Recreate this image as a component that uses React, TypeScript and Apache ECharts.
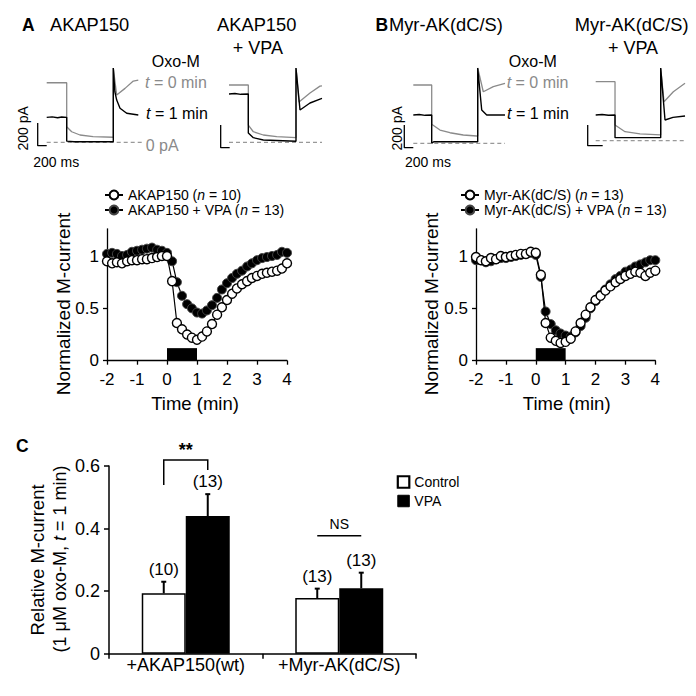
import React, { useEffect, useRef } from 'react';
import * as echarts from 'echarts';

const FONT = "'Liberation Sans', Arial, Helvetica, sans-serif";
const GRAY = '#8a8a8a';

// ---------- Panel A / B current traces (ms, pA) ----------
const traceA_t0 = [[0, 530], [440, 530], [440, 139], [550, 94], [733, 65], [1020, 50], [1465, 45], [1465, 661], [1540, 421], [1723, 480], [1905, 545], [2015, 554]];
const traceA_t1 = [[0, 222], [120, 226], [240, 219], [330, 225], [440, 222], [440, 10], [600, 5], [1465, 5], [1465, 661], [1500, 450], [1540, 376], [1613, 303], [1760, 258], [2015, 243]];
const traceAV_t0 = [[0, 510], [425, 510], [425, 153], [535, 94], [755, 65], [1050, 50], [1474, 41], [1474, 661], [1540, 358], [1782, 439], [2002, 500], [2046, 503]];
const traceAV_t1 = [[0, 430], [130, 434], [260, 427], [425, 430], [425, 83], [535, 41], [755, 20], [1474, 9], [1474, 661], [1562, 287], [1782, 350], [2002, 385], [2046, 391]];
const traceB_t0 = [[0, 519], [405, 519], [405, 170], [587, 118], [807, 94], [1100, 74], [1395, 65], [1417, 65], [1417, 670], [1540, 459], [1760, 504], [2017, 534]];
const traceB_t1 = [[0, 252], [130, 256], [260, 249], [405, 252], [405, 0], [450, 14], [1417, 14], [1417, 670], [1505, 296], [1615, 252], [2017, 252]];
const traceBV_t0 = [[0, 525], [425, 525], [425, 140], [645, 80], [975, 60], [1430, 51], [1430, 647], [1503, 347], [1708, 436], [1965, 511]];
const traceBV_t1 = [[0, 229], [140, 233], [280, 226], [425, 229], [425, 27], [1430, 27], [1430, 647], [1525, 184], [1700, 208], [1965, 220]];
const zeroA = [[0, 0], [2090, 0]];
const zeroAV = [[0, 0], [2046, 0]];
const zeroB = [[0, 0], [2017, 0]];
const zeroBV = [[0, 0], [1965, 0]];
const scaleA = [[-198, 172], [-198, -30], [0, -30]];
const scaleAV = [[-183, 154], [-183, -48], [15, -48]];
const scaleB = [[-198, 163], [-198, -39], [0, -39]];
const scaleBV = [[-176, 140], [-176, -44], [154, -44]];

// ---------- Time courses ----------
const timeMin = [-2, -1.83, -1.67, -1.5, -1.33, -1.17, -1, -0.83, -0.67, -0.5, -0.33, -0.17, 0, 0.17, 0.33, 0.5, 0.67, 0.83, 1, 1.17, 1.33, 1.5, 1.67, 1.83, 2, 2.17, 2.33, 2.5, 2.67, 2.83, 3, 3.17, 3.33, 3.5, 3.67, 3.83, 4];
const akapCtrl = [0.95, 0.93, 0.94, 0.93, 0.95, 0.96, 0.96, 0.97, 0.97, 0.98, 0.99, 1.0, 1.0, 0.76, 0.36, 0.3, 0.25, 0.22, 0.2, 0.23, 0.28, 0.35, 0.44, 0.51, 0.58, 0.64, 0.69, 0.73, 0.76, 0.79, 0.81, 0.83, 0.84, 0.85, 0.86, 0.88, 0.93];
const akapVpa = [1.02, 1.03, 1.02, 1.0, 1.01, 1.04, 1.05, 1.06, 1.07, 1.08, 1.06, 1.05, 1.03, 0.95, 0.75, 0.62, 0.54, 0.5, 0.46, 0.45, 0.48, 0.53, 0.6, 0.68, 0.74, 0.79, 0.83, 0.86, 0.9, 0.93, 0.96, 0.98, 0.99, 1.0, 1.01, 1.04, 1.03];
const myrCtrl = [0.99, 0.96, 0.95, 0.98, 0.97, 1.0, 0.99, 1.0, 1.01, 1.02, 1.02, 1.04, 1.03, 0.82, 0.36, 0.22, 0.19, 0.17, 0.18, 0.21, 0.28, 0.36, 0.44, 0.51, 0.58, 0.62, 0.67, 0.71, 0.75, 0.78, 0.81, 0.83, 0.85, 0.84, 0.81, 0.84, 0.86];
const myrVpa = [0.96, 0.96, 0.94, 0.95, 0.97, 0.98, 0.98, 0.99, 1.0, 1.01, 1.02, 1.03, 1.01, 0.8, 0.47, 0.35, 0.29, 0.26, 0.24, 0.23, 0.27, 0.33, 0.41, 0.5, 0.57, 0.63, 0.68, 0.73, 0.78, 0.81, 0.85, 0.87, 0.9, 0.92, 0.94, 0.96, 0.96];
const timeTicks = [0, 0.5, 1];
const oxoStart = 0;
const oxoEnd = 1;
const oxoBarHeight = 0.12;
const nameA0 = 'AKAP150 (n = 10)';
const nameA1 = 'AKAP150 + VPA (n = 13)';
const nameB0 = 'Myr-AK(dC/S) (n = 13)';
const nameB1 = 'Myr-AK(dC/S) + VPA (n = 13)';

// ---------- Panel C ----------
const groups = ['+AKAP150(wt)', '+Myr-AK(dC/S)'];
const controlVals = [0.193, 0.178];
const controlErr = [0.037, 0.03];
const controlN = ['(10)', '(13)'];
const vpaVals = [0.44, 0.209];
const vpaErr = [0.07, 0.05];
const vpaN = ['(13)', '(13)'];
const sigLabels = ['**', 'NS'];
const sigY = [0.619, 0.377];
const sigLegLeft = [0.539, null];
const sigLegRight = [0.587, null];

const BAR_W = 44;

function buildOption() {
  const MS_PX = 22, PA_PX = 8.9, MS_MIN = -250, MS_MAX = 2100, PA_MIN = -60, PA_MAX = 700;
  const origins = [
    [46.7, 142.3],
    [229, 142.3],
    [413.3, 143.3],
    [595.7, 140.7],
  ];
  const traceSets = [
    { t0: traceA_t0, t1: traceA_t1, zero: zeroA, bar: scaleA },
    { t0: traceAV_t0, t1: traceAV_t1, zero: zeroAV, bar: scaleAV },
    { t0: traceB_t0, t1: traceB_t1, zero: zeroB, bar: scaleB },
    { t0: traceBV_t0, t1: traceBV_t1, zero: zeroBV, bar: scaleBV },
  ];
  const grids: any[] = [];
  const xAxes: any[] = [];
  const yAxes: any[] = [];
  const series: any[] = [];

  origins.forEach(([ox, oy], i) => {
    grids.push({
      left: ox + MS_MIN / MS_PX,
      top: oy - PA_MAX / PA_PX,
      width: (MS_MAX - MS_MIN) / MS_PX,
      height: (PA_MAX - PA_MIN) / PA_PX,
    });
    xAxes.push({ type: 'value', gridIndex: i, min: MS_MIN, max: MS_MAX, show: false });
    yAxes.push({ type: 'value', gridIndex: i, min: PA_MIN, max: PA_MAX, show: false });
    const s = traceSets[i];
    const base = { type: 'line', xAxisIndex: i, yAxisIndex: i, symbol: 'none', silent: true, z: 2 };
    series.push({ ...base, data: s.zero, lineStyle: { color: '#999', width: 1.2, type: [4, 3] } });
    series.push({ ...base, data: s.bar, lineStyle: { color: '#000', width: 1.3 } });
    series.push({ ...base, data: s.t0, lineStyle: { color: GRAY, width: 1.3 } });
    series.push({ ...base, data: s.t1, lineStyle: { color: '#000', width: 1.4 }, z: 3 });
  });

  // Time courses
  const vUnit = 104.7;
  const vMax = 1.26;
  const tcLefts = [[107, 180], [476, 179.3]];
  tcLefts.forEach(([left, width]) => {
    grids.push({ left, width, top: 360.7 - vMax * vUnit, height: vMax * vUnit });
  });
  [4, 5].forEach((gi) => {
    xAxes.push({
      type: 'value', gridIndex: gi, min: -2, max: 4, interval: 1,
      axisLine: { show: true, onZero: false, lineStyle: { color: '#000', width: 1.3 } },
      axisTick: { show: true, length: 4, lineStyle: { color: '#000', width: 1.3 } },
      axisLabel: { fontSize: 17, color: '#000', fontFamily: FONT, margin: 10 },
      splitLine: { show: false },
    });
    yAxes.push({
      type: 'value', gridIndex: gi, min: 0, max: vMax,
      axisLine: { show: true, onZero: false, lineStyle: { color: '#000', width: 1.3 } },
      axisTick: { show: true, length: 4, customValues: timeTicks, lineStyle: { color: '#000', width: 1.3 } },
      axisLabel: {
        fontSize: 17, color: '#000', fontFamily: FONT, margin: 8, customValues: timeTicks,
        formatter: (v: number) => (timeTicks.indexOf(v) >= 0 ? String(v) : ''),
      },
      splitLine: { show: false },
    });
  });
  const mkTC = (name: string, vals: number[], gi: number, filled: boolean, withBar: boolean) => {
    const s: any = {
      type: 'line', name, xAxisIndex: gi, yAxisIndex: gi,
      data: timeMin.map((t, i) => [t, vals[i]]),
      symbol: 'circle', symbolSize: 9, showSymbol: true, silent: true,
      lineStyle: { color: '#000', width: 1.2 },
      itemStyle: filled
        ? { color: '#000', borderColor: '#444', borderWidth: 1 }
        : { color: '#fff', borderColor: '#000', borderWidth: 1.4 },
      z: filled ? 3 : 4,
    };
    if (withBar) {
      s.markArea = {
        silent: true,
        itemStyle: { color: '#000' },
        data: [[{ xAxis: oxoStart, yAxis: 0 }, { xAxis: oxoEnd, yAxis: oxoBarHeight }]],
      };
    }
    return s;
  };
  series.push(mkTC(nameA1, akapVpa, 4, true, true));
  series.push(mkTC(nameA0, akapCtrl, 4, false, false));
  series.push(mkTC(nameB1, myrVpa, 5, true, true));
  series.push(mkTC(nameB0, myrCtrl, 5, false, false));

  // Panel C
  grids.push({ left: 109, top: 466, width: 307, height: 187.7 });
  xAxes.push({
    type: 'category', gridIndex: 6, data: groups,
    axisLine: { show: true, onZero: false, lineStyle: { color: '#000', width: 1.5 } },
    axisTick: { show: true, length: 5, alignWithLabel: false, lineStyle: { color: '#000', width: 1.5 } },
    axisLabel: { fontSize: 18, color: '#000', fontFamily: FONT, margin: 2, interval: 0 },
  });
  yAxes.push({
    type: 'value', gridIndex: 6, min: 0, max: 0.6, interval: 0.2,
    axisLine: { show: true, onZero: false, lineStyle: { color: '#000', width: 1.5 } },
    axisTick: { show: true, length: 5, lineStyle: { color: '#000', width: 1.5 } },
    axisLabel: {
      fontSize: 18, color: '#000', fontFamily: FONT, margin: 9,
      formatter: (v: number) => (v === 0 ? '0' : v.toFixed(1)),
    },
    splitLine: { show: false },
  });
  series.push({
    type: 'bar', name: 'Control', xAxisIndex: 6, yAxisIndex: 6, data: controlVals,
    barWidth: BAR_W, barGap: '0%', silent: true,
    itemStyle: { color: '#fff', borderColor: '#000', borderWidth: 1.5 },
  });
  series.push({
    type: 'bar', name: 'VPA', xAxisIndex: 6, yAxisIndex: 6, data: vpaVals,
    barWidth: BAR_W, barGap: '0%', silent: true,
    itemStyle: { color: '#000', borderColor: '#000', borderWidth: 1.5 },
  });
  const errSeries = (vals: number[], errs: number[], labels: string[], offset: number) => ({
    type: 'custom', xAxisIndex: 6, yAxisIndex: 6, silent: true, z: 5,
    data: vals.map((v, i) => [i, v, errs[i]]),
    renderItem: (params: any, api: any) => {
      const i = api.value(0);
      const v = api.value(1);
      const e = api.value(2);
      const b = api.coord([i, v]);
      const t = api.coord([i, v + e]);
      const x = b[0] + offset;
      return {
        type: 'group',
        children: [
          { type: 'line', shape: { x1: x, y1: b[1], x2: x, y2: t[1] }, style: { stroke: '#000', lineWidth: 2 } },
          { type: 'line', shape: { x1: x - 2.5, y1: t[1], x2: x + 2.5, y2: t[1] }, style: { stroke: '#000', lineWidth: 2 } },
          {
            type: 'text', x, y: t[1] - 4,
            style: { text: labels[params.dataIndex], align: 'center', verticalAlign: 'bottom', fontSize: 17, fontFamily: FONT, fill: '#000' },
          },
        ],
      };
    },
  });
  series.push(errSeries(controlVals, controlErr, controlN, -BAR_W / 2));
  series.push(errSeries(vpaVals, vpaErr, vpaN, BAR_W / 2));
  series.push({
    type: 'custom', xAxisIndex: 6, yAxisIndex: 6, silent: true, z: 5,
    data: sigY.map((y, i) => [i, y]),
    renderItem: (params: any, api: any) => {
      const idx = params.dataIndex;
      const c = api.coord([api.value(0), api.value(1)]);
      const xl = c[0] - BAR_W / 2;
      const xr = c[0] + BAR_W / 2;
      const children: any[] = [];
      const ll = sigLegLeft[idx];
      const lr = sigLegRight[idx];
      const pts: number[][] = [];
      if (ll != null) pts.push([xl, api.coord([0, ll])[1]]);
      pts.push([xl, c[1]], [xr, c[1]]);
      if (lr != null) pts.push([xr, api.coord([0, lr])[1]]);
      children.push({ type: 'polyline', shape: { points: pts }, style: { stroke: '#000', lineWidth: 1.5, fill: 'none' } });
      const isStar = sigLabels[idx] === '**';
      children.push({
        type: 'text', x: c[0], y: c[1] - (isStar ? 1 : 5),
        style: {
          text: sigLabels[idx], align: 'center', verticalAlign: 'bottom',
          fontSize: isStar ? 18 : 14, fontWeight: isStar ? 'bold' : 'normal', fontFamily: FONT, fill: '#000',
        },
      });
      return { type: 'group', children };
    },
  });

  const legendRich = {
    r: { fontSize: 14, fontFamily: FONT, color: '#000' },
    i: { fontStyle: 'italic', fontSize: 14, fontFamily: FONT, color: '#000' },
  };
  const fmtN = (name: string) => {
    const k = name.indexOf('(n =');
    return '{r|' + name.slice(0, k + 1) + '}{i|n}{r|' + name.slice(k + 2) + '}';
  };
  const tcLegend = (left: number, data: string[]) => ({
    left, top: 188, orient: 'vertical', padding: 0, itemWidth: 18, itemHeight: 11, itemGap: 1,
    data, formatter: fmtN, selectedMode: false,
    textStyle: { fontSize: 14, fontFamily: FONT, color: '#000', rich: legendRich },
  });

  // text helper: segments in {i|...} are italic, everything else regular
  const txt = (x: number, y: number, text: string, o: any = {}) => {
    const size = o.size || 16;
    const color = o.color || '#000';
    const weight = o.bold ? 'bold' : 'normal';
    const style: any = {
      align: o.align || 'left', verticalAlign: 'middle',
      fontSize: size, fontFamily: FONT, fontWeight: weight, fill: color,
    };
    if (text.indexOf('{i|') >= 0) {
      const parts = text.split(/(\{i\|[^}]*\})/).filter((p) => p.length);
      style.text = parts.map((p) => (p.startsWith('{i|') ? p : '{r|' + p + '}')).join('');
      style.rich = {
        r: { fontSize: size, fontFamily: FONT, fill: color, fontWeight: weight },
        i: { fontSize: size, fontFamily: FONT, fill: color, fontStyle: 'italic' },
      };
    } else {
      style.text = text;
    }
    return { type: 'text', x, y, rotation: o.rot || 0, silent: true, style };
  };
  const R = Math.PI / 2;
  const graphic = [
    txt(22, 24.5, 'A', { size: 17.5, bold: true }),
    txt(50, 24.5, 'AKAP150', { size: 18.3 }),
    txt(256.7, 24.5, 'AKAP150', { size: 18.3, align: 'center' }),
    txt(257.8, 47.8, '+ VPA', { size: 18, align: 'center' }),
    txt(175.8, 61.7, 'Oxo-M', { align: 'center' }),
    txt(145, 82.8, '{i|t} = 0 min', { color: GRAY }),
    txt(146, 113.3, '{i|t} = 1 min'),
    txt(145.7, 145, '0 pA', { color: GRAY }),
    txt(22.5, 128.3, '200 pA', { size: 14, align: 'center', rot: R }),
    txt(33.3, 161.7, '200 ms', { size: 14 }),
    txt(375.5, 24.5, 'B', { size: 17.5, bold: true }),
    txt(389, 24.5, 'Myr-AK(dC/S)', { size: 18.3 }),
    txt(631.7, 24.5, 'Myr-AK(dC/S)', { size: 18.3, align: 'center' }),
    txt(633, 47.8, '+ VPA', { size: 18, align: 'center' }),
    txt(532.8, 61.7, 'Oxo-M', { align: 'center' }),
    txt(506.7, 82.7, '{i|t} = 0 min', { color: GRAY }),
    txt(507, 113.3, '{i|t} = 1 min'),
    txt(396.7, 128.3, '200 pA', { size: 14, align: 'center', rot: R }),
    txt(405, 161.7, '200 ms', { size: 14 }),
    txt(63.3, 304, 'Normalized M-current', { size: 19, align: 'center', rot: R }),
    txt(431.7, 304, 'Normalized M-current', { size: 19, align: 'center', rot: R }),
    txt(195, 403, 'Time (min)', { size: 18.5, align: 'center' }),
    txt(566.7, 403, 'Time (min)', { size: 18.5, align: 'center' }),
    txt(16, 446, 'C', { size: 17.5, bold: true }),
    txt(37.5, 560, 'Relative M-current', { size: 18.5, align: 'center', rot: R }),
    txt(60, 559, '(1 μM oxo-M, {i|t} = 1 min)', { size: 18, align: 'center', rot: R }),
  ];

  return {
    animation: false,
    backgroundColor: '#fff',
    textStyle: { fontFamily: FONT },
    grid: grids,
    xAxis: xAxes,
    yAxis: yAxes,
    legend: [
      tcLegend(104, [nameA0, nameA1]),
      tcLegend(460, [nameB0, nameB1]),
      {
        left: 396.7, top: 475, orient: 'vertical', padding: 0, itemWidth: 11.5, itemHeight: 11.5, itemGap: 5,
        icon: 'rect', selectedMode: false,
        textStyle: { fontSize: 14, fontFamily: FONT, color: '#000' },
        data: [
          { name: 'Control', itemStyle: { color: '#fff', borderColor: '#000', borderWidth: 2.2 } },
          { name: 'VPA', itemStyle: { color: '#000', borderColor: '#000', borderWidth: 1 } },
        ],
      },
    ],
    graphic,
    series,
  };
}

export default function App() {
  const ref = useRef<HTMLDivElement>(null);
  useEffect(() => {
    document.body.style.margin = '0';
    const chart = echarts.init(ref.current!, null, { renderer: 'svg' });
    chart.setOption(buildOption() as any);
    return () => chart.dispose();
  }, []);
  return <div ref={ref} style={{ width: 696, height: 696, background: '#fff' }} />;
}
